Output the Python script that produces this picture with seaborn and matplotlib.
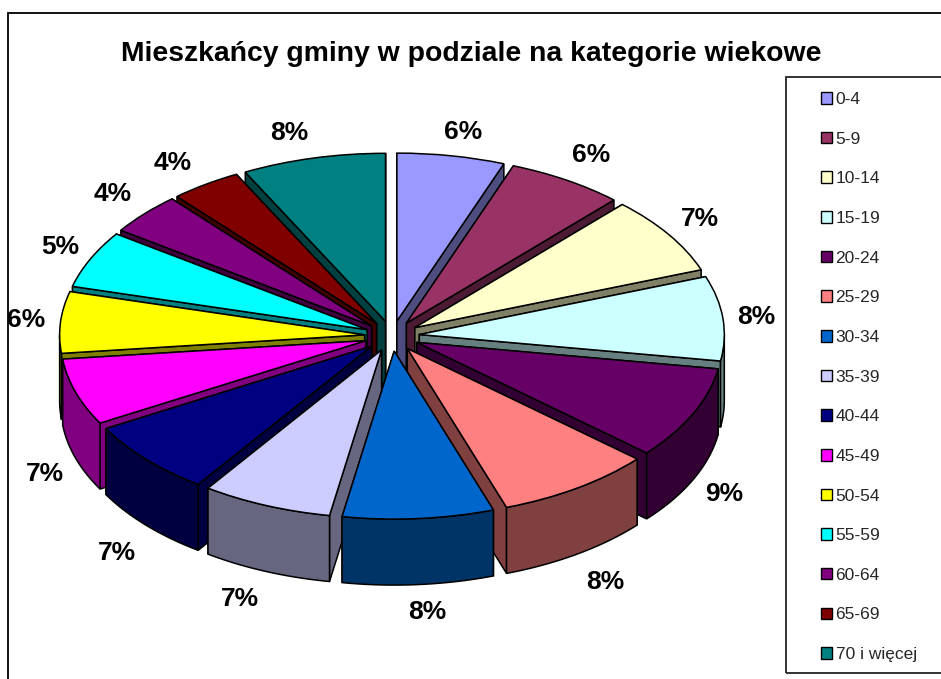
import matplotlib
matplotlib.use("Agg")
import matplotlib.pyplot as plt
from matplotlib.patches import Rectangle
import numpy as np
import seaborn as sns

# Data
age_groups = ["0-4", "5-9", "10-14", "15-19", "20-24", "25-29", "30-34", "35-39",
              "40-44", "45-49", "50-54", "55-59", "60-64", "65-69", "70 i więcej"]
shares = [5.7, 6.2, 7.49, 8.11, 8.9, 8.3, 8.0, 6.9, 7.2, 6.4, 5.9, 5.49, 4.0, 3.75, 7.6]
share_labels = ["6%", "6%", "7%", "8%", "9%", "8%", "8%", "7%",
                "7%", "7%", "6%", "5%", "4%", "4%", "8%"]
slice_colors = ["#9999FF", "#993366", "#FFFFCC", "#CCFFFF", "#660066", "#FF8080", "#0066CC",
                "#CCCCFF", "#000080", "#FF00FF", "#FFFF00", "#00FFFF", "#800080", "#800000", "#008080"]

# Layout in pixels of the 941x679 picture
W, H = 941, 679
CX, CY = 392, 336
RX, RY = 305, 168
DEPTH = 66
label_px = [(463, 132), (591, 155), (700, 219), (756, 317), (724, 494), (605, 582), (427, 612),
            (240, 599), (117, 553), (45, 474), (26, 320), (60, 247), (113, 194), (173, 163), (289, 133)]

sns.set_theme(style="white")
plt.rcParams["font.family"] = ["Liberation Sans", "DejaVu Sans"]
palette = sns.color_palette(slice_colors)


def px_x(x):
    return x / W


def px_y(y):
    return 1 - y / H


fig = plt.figure(figsize=(W / 100, H / 100), dpi=100)
ax = fig.add_axes([0, 0, 1, 1])

wedges, _ = ax.pie(shares, colors=palette, explode=[0.09] * len(shares), startangle=90,
                   counterclock=False, radius=1,
                   wedgeprops=dict(edgecolor="black", linewidth=1.1))
ax.set_aspect("auto")
ax.set_xlim(-CX / RX, (W - CX) / RX)
ax.set_ylim(-(H - CY) / RY, CY / RY)
ax.axis("off")

# Side walls: taken from each wedge, painted back to front
drop = DEPTH / RY
mids = [np.radians((w.theta1 + w.theta2) / 2) for w in wedges]
order = np.argsort(-np.sin(mids))
for z, i in enumerate(order):
    w = wedges[i]
    side = tuple(c * 0.5 for c in palette[i])
    cx, cy = w.center
    zorder = 3 + z
    # the wall that faces the viewer goes on last
    for t in sorted((w.theta1, w.theta2), key=lambda a: -np.sin(np.radians(a))):
        ex = cx + w.r * np.cos(np.radians(t))
        ey = cy + w.r * np.sin(np.radians(t))
        ax.fill([cx, ex, ex, cx], [cy, ey, ey - drop, cy - drop], facecolor=side,
                edgecolor="black", linewidth=1.1, zorder=zorder)
    ts = np.radians(np.linspace(w.theta1, w.theta2, 80))
    ts = ts[np.sin(ts) <= 0]
    if len(ts) > 1:
        xs = cx + w.r * np.cos(ts)
        ys = cy + w.r * np.sin(ts)
        ax.fill(np.r_[xs, xs[::-1]], np.r_[ys, ys[::-1] - drop], facecolor=side,
                edgecolor="black", linewidth=1.1, zorder=zorder)
    w.set_zorder(zorder + 0.5)

for text, (x, y) in zip(share_labels, label_px):
    fig.text(px_x(x), px_y(y), text, ha="center", va="center", fontsize=19,
             fontweight="bold", color="black")

fig.text(px_x(471), px_y(54), "Mieszkańcy gminy w podziale na kategorie wiekowe",
         ha="center", va="center", fontsize=20.4, fontweight="bold", color="black")

# Chart frame and legend box, both run off the right edge
fig.add_artist(Rectangle((px_x(8), px_y(690)), px_x(960), (690 - 13) / H, transform=fig.transFigure,
                         fill=False, edgecolor="black", linewidth=1.3))
fig.add_artist(Rectangle((px_x(786), px_y(673)), px_x(170), (673 - 77) / H, transform=fig.transFigure,
                         fill=False, edgecolor="#222222", linewidth=1.3))

legend = fig.legend(wedges, age_groups, loc="upper left", bbox_to_anchor=(px_x(821), px_y(92)),
                    frameon=False, fontsize=12.5, handlelength=0.64, handleheight=0.64,
                    handletextpad=0.2, labelspacing=1.42, borderpad=0, borderaxespad=0)
for handle in legend.legend_handles:
    handle.set_linewidth(1.0)

fig.savefig("out.png", dpi=100, facecolor="white")
